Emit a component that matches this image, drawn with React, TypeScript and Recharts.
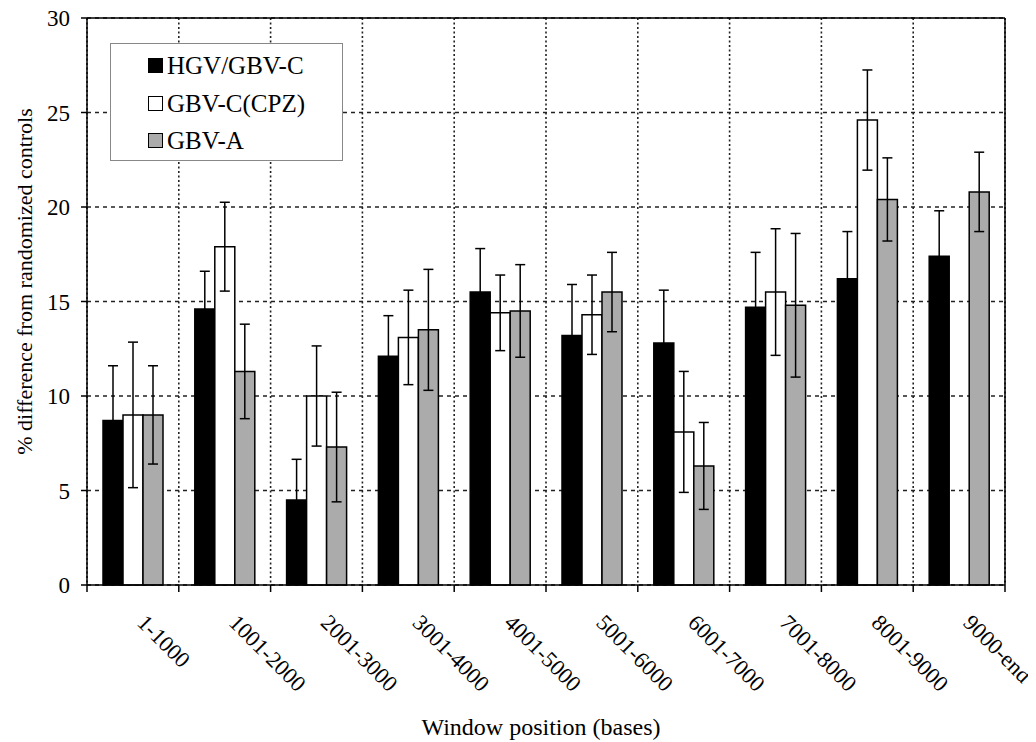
import React from 'react';
import {
  BarChart,
  Bar,
  XAxis,
  YAxis,
  CartesianGrid,
  ErrorBar,
  Legend,
  ReferenceLine,
} from 'recharts';

const categories = [
  '1-1000',
  '1001-2000',
  '2001-3000',
  '3001-4000',
  '4001-5000',
  '5001-6000',
  '6001-7000',
  '7001-8000',
  '8001-9000',
  '9000-end',
];

const hgvValues = [8.7, 14.6, 4.5, 12.1, 15.5, 13.2, 12.8, 14.7, 16.2, 17.4];
const hgvErrors = [2.9, 2.0, 2.15, 2.15, 2.3, 2.7, 2.8, 2.9, 2.5, 2.4];

const cpzValues = [9.0, 17.9, 10.0, 13.1, 14.4, 14.3, 8.1, 15.5, 24.6, null];
const cpzErrors = [3.85, 2.35, 2.65, 2.5, 2.0, 2.1, 3.2, 3.35, 2.65, null];

const gbvaValues = [9.0, 11.3, 7.3, 13.5, 14.5, 15.5, 6.3, 14.8, 20.4, 20.8];
const gbvaErrors = [2.6, 2.5, 2.9, 3.2, 2.45, 2.1, 2.3, 3.8, 2.2, 2.1];

const seriesNames = ['HGV/GBV-C', 'GBV-C(CPZ)', 'GBV-A'];
const seriesKeys = ['hgv', 'cpz', 'gbva'];
const seriesColors = ['#000000', '#ffffff', '#ababab'];

const yTicks = [0, 5, 10, 15, 20, 25, 30];
const boundaryTicks = [0, 1, 2, 3, 4, 5, 6, 7, 8, 9, 10];

const yTitle = '% difference from randomized controls';
const xTitle = 'Window position (bases)';

const data = categories.map((name, i) => ({
  name,
  pos: i + 0.5,
  hgv: hgvValues[i],
  hgvErr: hgvErrors[i],
  cpz: cpzValues[i],
  cpzErr: cpzErrors[i],
  gbva: gbvaValues[i],
  gbvaErr: gbvaErrors[i],
}));

const FONT = 'Liberation Serif, Times New Roman, serif';

const CatTick = (props: any) => {
  const { x, y, payload } = props;
  const ax = x + 3;
  const ay = y + 31;
  return (
    <text
      x={ax}
      y={ay}
      transform={`rotate(45, ${ax}, ${ay})`}
      textAnchor="start"
      fontSize={22.5}
      fontFamily={FONT}
      fill="#000"
    >
      {payload.value}
    </text>
  );
};

const LegendBox = () => (
  <div
    style={{
      border: '1px solid #888',
      background: '#fff',
      width: 231,
      height: 113,
      paddingTop: 3,
      boxSizing: 'content-box',
      fontFamily: FONT,
    }}
  >
    {seriesNames.map((n, i) => (
      <div
        key={n}
        style={{
          height: 37.5,
          display: 'flex',
          alignItems: 'center',
          paddingLeft: 37,
        }}
      >
        <span
          style={{
            width: 13,
            height: 13,
            border: '1.5px solid #000',
            background: seriesColors[i],
            display: 'inline-block',
            marginRight: 4,
          }}
        />
        <span style={{ fontSize: 25, color: '#000', lineHeight: '25px' }}>{n}</span>
      </div>
    ))}
  </div>
);

export default function App() {
  return (
    <div style={{ width: 1028, height: 734 }}>
      <BarChart
        width={1028}
        height={734}
        data={data}
        margin={{ top: 10, right: 31, left: 0, bottom: 0 }}
        barGap={0}
        style={{ fontFamily: FONT }}
      >
        <CartesianGrid
          xAxisId="a"
          horizontal={false}
          vertical={true}
          stroke="#222"
          strokeWidth={1.6}
          strokeDasharray="2 2.5"
        />
        <CartesianGrid
          xAxisId="a"
          horizontal={true}
          vertical={false}
          stroke="#222"
          strokeWidth={1.5}
          strokeDasharray="4 4"
        />
        <XAxis
          xAxisId="b"
          dataKey="name"
          type="category"
          interval={0}
          height={149}
          tickSize={0}
          tickMargin={0}
          axisLine={false}
          tickLine={false}
          tick={<CatTick />}
          label={{
            content: (p: any) => {
              const vb = p.viewBox || {};
              return (
                <text
                  x={vb.x + vb.width / 2 - 5}
                  y={vb.y + vb.height - 7}
                  textAnchor="middle"
                  fontSize={24}
                  fontFamily={FONT}
                  fill="#000"
                >
                  {xTitle}
                </text>
              );
            },
          }}
        />
        <XAxis
          xAxisId="a"
          type="number"
          dataKey="pos"
          domain={[0, 10]}
          ticks={boundaryTicks}
          allowDataOverflow
          interval={0}
          height={8}
          tickSize={7}
          tickFormatter={() => ''}
          axisLine={{ stroke: '#000', strokeWidth: 1.5 }}
          tickLine={{ stroke: '#000', strokeWidth: 1.5 }}
        />
        <YAxis
          domain={[0, 30]}
          ticks={yTicks}
          width={79}
          tickSize={6}
          tickMargin={11}
          interval={0}
          axisLine={{ stroke: '#000', strokeWidth: 1.5 }}
          tickLine={{ stroke: '#000', strokeWidth: 1.5 }}
          tick={{ fontSize: 23, fill: '#000', fontFamily: FONT }}
          label={{
            content: (p: any) => {
              const vb = p.viewBox || {};
              const cx = vb.x + 23.5;
              const cy = vb.y + vb.height / 2 - 20;
              return (
                <text
                  x={cx}
                  y={cy}
                  transform={`rotate(-90, ${cx}, ${cy})`}
                  textAnchor="middle"
                  fontSize={22}
                  fontFamily={FONT}
                  fill="#000"
                >
                  {yTitle}
                </text>
              );
            },
          }}
        />
        <ReferenceLine xAxisId="a" y={30} stroke="#000" strokeWidth={1.5} ifOverflow="visible" />
        <ReferenceLine xAxisId="a" x={10} stroke="#000" strokeWidth={1.5} ifOverflow="visible" />
        <Legend
          layout="vertical"
          align="center"
          verticalAlign="middle"
          content={<LegendBox />}
          wrapperStyle={{ left: 102, top: 35, width: 233, height: 117 }}
        />
        {seriesKeys.map((k, i) => (
          <Bar
            key={k}
            xAxisId="b"
            dataKey={k}
            name={seriesNames[i]}
            fill={seriesColors[i]}
            stroke="#000"
            strokeWidth={1.5}
            barSize={20}
            isAnimationActive={false}
          >
            <ErrorBar
              dataKey={`${k}Err`}
              width={5}
              stroke="#000"
              strokeWidth={1.5}
              direction="y"
            />
          </Bar>
        ))}
      </BarChart>
    </div>
  );
}
